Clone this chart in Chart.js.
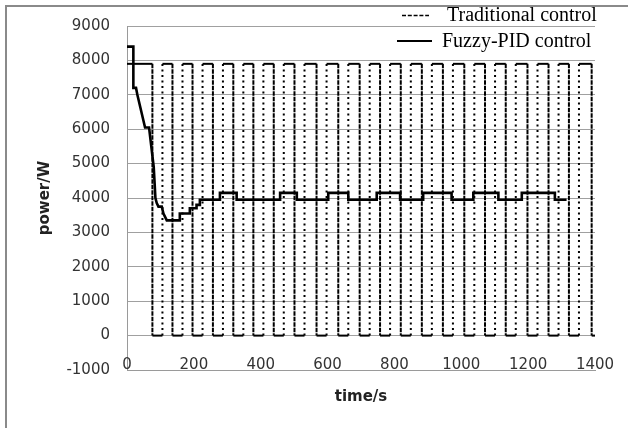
<!DOCTYPE html>
<html>
<head>
<meta charset="utf-8">
<script src="https://cdn.jsdelivr.net/npm/chart.js@4/dist/chart.umd.min.js"></script>
<style>
html,body{margin:0;padding:0;background:#fff;}
#wrap{width:628px;height:428px;position:relative;}
</style>
</head>
<body>
<div id="wrap"><canvas id="c" width="628" height="428"></canvas></div>
<script>
// ---- Data ----
const xTicks = [0, 200, 400, 600, 800, 1000, 1200, 1400];
const yTicks = [-1000, 0, 1000, 2000, 3000, 4000, 5000, 6000, 7000, 8000, 9000];

const seriesNames = ['Traditional control', 'Fuzzy-PID control'];
const xTitle = 'time/s';
const yTitle = 'power/W';

// Traditional (on/off) control: power level and switching times (s)
const tradOnPower = 7900;
const tradOffPower = 0;
const tradEndTime = 1400;
const tradSwitchOff = [76,136,196,257,318,378,439,501,567,632,696,757,819,882,945,1009,1071,1133,1198,1261,1322,1390];
const tradSwitchOn  = [106,166,226,287,348,408,469,531,597,662,726,787,849,912,975,1039,1101,1163,1228,1291,1352];

// Fuzzy-PID control: corner points of the power curve
const fuzzyTime  = [0,19,19,27,31,54,66,80,85,89,94,104,109,119,158,158,188,188,208,208,218,218,278,278,328,328,458,458,508,508,602,602,662,662,747,747,817,817,886,886,971,971,1036,1036,1111,1111,1181,1181,1280,1280,1315];
const fuzzyPower = [8400,8400,7200,7200,7000,6050,6050,4900,4000,3850,3750,3750,3550,3350,3350,3550,3550,3700,3700,3800,3800,3950,3950,4150,4150,3950,3950,4150,4150,3950,3950,4150,4150,3950,3950,4150,4150,3950,3950,4150,4150,3950,3950,4150,4150,3950,3950,4150,4150,3950,3950];

// ---- build point lists ----
const tradPoints = [{x: 0, y: tradOnPower}];
tradSwitchOff.forEach((t, i) => {
  tradPoints.push({x: t, y: tradOnPower});
  tradPoints.push({x: t, y: tradOffPower});
  if (i < tradSwitchOn.length) {
    tradPoints.push({x: tradSwitchOn[i], y: tradOffPower});
    tradPoints.push({x: tradSwitchOn[i], y: tradOnPower});
  } else {
    tradPoints.push({x: tradEndTime, y: tradOffPower});
  }
});
const fuzzyPoints = fuzzyTime.map((t, i) => ({x: t, y: fuzzyPower[i]}));

const decor = {
  id: 'decor',
  beforeDraw(chart) {
    const ctx = chart.ctx;
    ctx.save();
    ctx.fillStyle = '#fff';
    ctx.fillRect(0, 0, chart.width, chart.height);
    ctx.strokeStyle = '#8a8a8a';
    ctx.lineWidth = 2;
    ctx.beginPath();
    ctx.moveTo(6, 428);
    ctx.lineTo(6, 6);
    ctx.lineTo(628, 6);
    ctx.stroke();
    ctx.restore();
  },
  afterDraw(chart) {
    const ctx = chart.ctx;
    const ca = chart.chartArea;
    const xs = chart.scales.x;
    ctx.save();
    // x tick labels (sitting on the axis line, as in the reference)
    ctx.fillStyle = '#333';
    ctx.font = '15px "DejaVu Sans"';
    ctx.textAlign = 'center';
    ctx.textBaseline = 'middle';
    xTicks.forEach(v => ctx.fillText(String(v), xs.getPixelForValue(v), ca.bottom - 5));
    // x axis title
    ctx.fillStyle = '#222';
    ctx.font = 'bold 15px "DejaVu Sans"';
    ctx.fillText(xTitle, (ca.left + ca.right) / 2, 397);
    // y axis title
    ctx.translate(45, (ca.top + ca.bottom) / 2);
    ctx.rotate(-Math.PI / 2);
    ctx.fillText(yTitle, 0, 0);
    ctx.restore();
    // legend
    ctx.save();
    ctx.fillStyle = '#000';
    ctx.font = '20px "Liberation Serif"';
    ctx.textAlign = 'left';
    ctx.textBaseline = 'alphabetic';
    ctx.strokeStyle = '#000';
    ctx.lineWidth = 1.3;
    ctx.setLineDash([4, 1.8]);
    ctx.beginPath();
    ctx.moveTo(402, 15.5);
    ctx.lineTo(429, 15.5);
    ctx.stroke();
    ctx.fillText(seriesNames[0], 447, 21);
    ctx.setLineDash([]);
    ctx.lineWidth = 1.8;
    ctx.beginPath();
    ctx.moveTo(397, 41);
    ctx.lineTo(432, 41);
    ctx.stroke();
    ctx.fillText(seriesNames[1], 442, 47);
    ctx.restore();
  }
};

new Chart(document.getElementById('c'), {
  type: 'line',
  data: {
    datasets: [
      {
        label: seriesNames[1],
        data: fuzzyPoints,
        borderColor: '#000',
        borderWidth: 2.6,
        pointRadius: 0,
        tension: 0,
        fill: false
      },
      {
        label: seriesNames[0],
        data: tradPoints,
        borderColor: '#000',
        borderWidth: 2,
        pointRadius: 0,
        tension: 0,
        fill: false,
        borderCapStyle: 'butt',
        segment: {
          borderDash: ctx => (ctx.p0.parsed.x === ctx.p1.parsed.x ? [2, 3.5] : undefined)
        }
      }
    ]
  },
  options: {
    responsive: false,
    animation: false,
    devicePixelRatio: 1,
    layout: { padding: { top: 26, right: 33, left: 0, bottom: 0 } },
    plugins: { legend: { display: false }, tooltip: { enabled: false } },
    scales: {
      x: {
        type: 'linear',
        min: 0, max: 1400,
        afterBuildTicks: s => { s.ticks = xTicks.map(v => ({value: v})); },
        afterFit: s => { s.height = 58; },
        grid: { display: false, drawTicks: false },
        border: { display: true, color: '#9a9a9a', width: 1 },
        ticks: { display: false }
      },
      y: {
        type: 'linear',
        min: -1000, max: 9000,
        afterBuildTicks: s => { s.ticks = yTicks.map(v => ({value: v})); },
        afterFit: s => { s.width = 127; },
        grid: { color: '#a0a0a0', lineWidth: 1, drawTicks: false },
        border: { display: true, color: '#9a9a9a', width: 1 },
        ticks: { color: '#333', font: { family: 'DejaVu Sans', size: 15 }, padding: 17, callback: v => String(v) }
      }
    }
  },
  plugins: [decor]
});
</script>
</body>
</html>
